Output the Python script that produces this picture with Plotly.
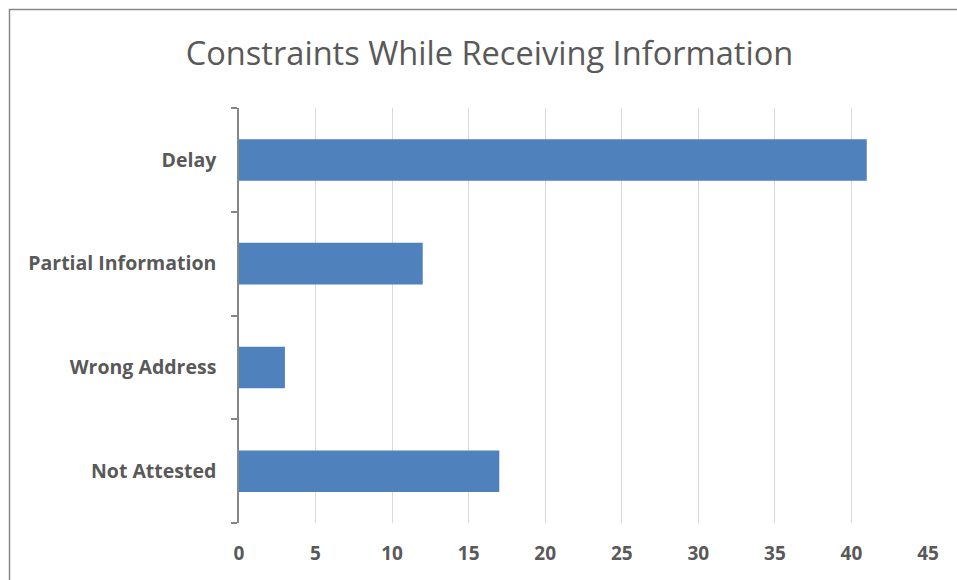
import plotly.graph_objects as go

categories = ["Delay", "Partial Information", "Wrong Address", "Not Attested"]
values = [41, 12, 3, 17]
x_ticks = [0, 5, 10, 15, 20, 25, 30, 35, 40, 45]
title_text = "Constraints While Receiving Information"

W, H = 957, 580
L, R, T, B = 239, 29, 108, 57
pw = W - L - R
ph = H - T - B

def px_to_paper_x(px):
    return (px - L) / pw

def py_to_paper_y(py):
    return (H - B - py) / ph

fig = go.Figure()
fig.add_trace(go.Bar(
    y=categories, x=values, orientation="h",
    marker=dict(color="#4f81bd", line=dict(width=0)),
    width=0.4,
))

fig.update_layout(
    width=W, height=H,
    margin=dict(l=L, r=R, t=T, b=B),
    paper_bgcolor="white", plot_bgcolor="white",
    showlegend=False,
    title=dict(text=title_text, x=489.5 / W, xanchor="center", y=1 - 54 / H, yanchor="middle",
               font=dict(family="Open Sans", size=32.6, color="#595959")),
    font=dict(family="Open Sans", color="#595959"),
    xaxis=dict(range=[0, 45], tickvals=x_ticks, showgrid=True, gridcolor="#d9d9d9", gridwidth=1.3,
               zeroline=False, showline=False, ticks="",
               tickfont=dict(family="Open Sans", size=19, color="#595959", weight="bold"),
               ticklabelstandoff=17),
    yaxis=dict(categoryorder="array", categoryarray=categories[::-1], type="category",
               showline=True, linecolor="#868686", linewidth=1.5,
               ticks="outside", tickson="boundaries", ticklen=6, tickcolor="#868686", tickwidth=1.5,
               showgrid=False, zeroline=False,
               tickfont=dict(family="Open Sans", size=19.5, color="#595959", weight="bold"),
               ticklabelstandoff=17),
    shapes=[dict(type="rect", xref="paper", yref="paper",
                 x0=px_to_paper_x(9.5), x1=px_to_paper_x(1000),
                 y0=py_to_paper_y(620), y1=py_to_paper_y(9.5),
                 line=dict(color="#888888", width=1.5), fillcolor="rgba(0,0,0,0)", layer="below")],
)

fig.write_html("out.html", config={"displayModeBar": False},
               post_script="document.body.style.margin='0px';document.body.style.overflow='hidden';")
